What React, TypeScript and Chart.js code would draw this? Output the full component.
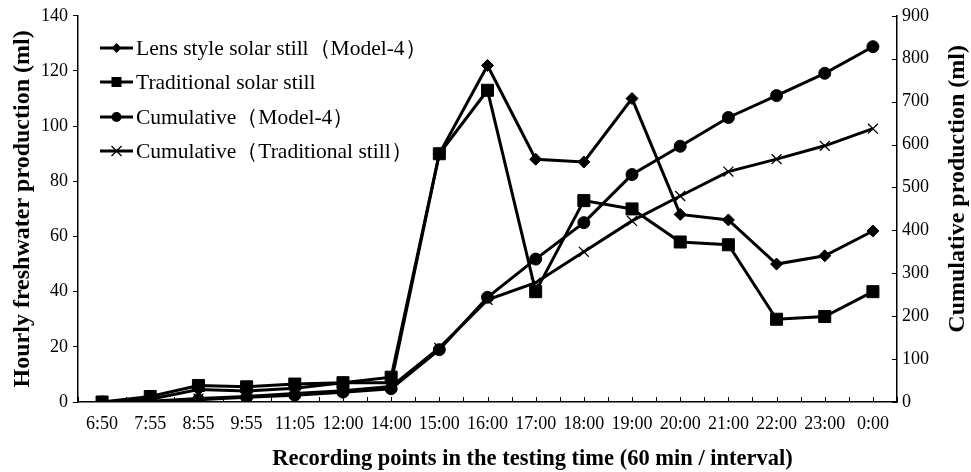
import React, { useEffect, useRef } from "react";
import { Chart, registerables } from "chart.js";

Chart.register(...registerables);

const categories = ["6:50", "7:55", "8:55", "9:55", "11:05", "12:00", "14:00", "15:00", "16:00", "17:00", "18:00", "19:00", "20:00", "21:00", "22:00", "23:00", "0:00"];
const lensHourly = [0, 1, 4.5, 4, 5, 7, 7, 90, 122, 88, 87, 110, 68, 66, 50, 53, 62];
const traditionalHourly = [0, 2, 6, 5.5, 6.5, 7, 9, 90, 113, 40, 73, 70, 58, 57, 30, 31, 40];
const cumulativeLens = [0, 1, 5, 11, 16, 23, 31, 122, 244, 333, 418, 530, 596, 663, 714, 766, 828];
const cumulativeTraditional = [0, 2, 8, 13, 20, 26, 36, 126, 238, 278, 350, 422, 480, 537, 566, 597, 637];

const seriesNames = [
  "Lens style solar still\uFF08Model-4\uFF09",
  "Traditional solar still",
  "Cumulative\uFF08Model-4\uFF09",
  "Cumulative\uFF08Traditional still\uFF09",
];
const seriesMarkers = ["diamond", "square", "circle", "cross"];
const rightTitle = "Cumulative production (ml)";
const xTitle = "Recording points in the testing time (60 min / interval)";

const SERIF = "'Liberation Serif', 'Times New Roman', serif";

function drawMarker(ctx: CanvasRenderingContext2D, kind: string, x: number, y: number) {
  ctx.save();
  ctx.fillStyle = "#000";
  ctx.strokeStyle = "#000";
  ctx.beginPath();
  if (kind === "diamond") {
    ctx.moveTo(x, y - 5);
    ctx.lineTo(x + 5, y);
    ctx.lineTo(x, y + 5);
    ctx.lineTo(x - 5, y);
    ctx.closePath();
    ctx.fill();
  } else if (kind === "square") {
    ctx.rect(x - 5, y - 5, 10, 10);
    ctx.fill();
  } else if (kind === "circle") {
    ctx.arc(x, y, 5, 0, Math.PI * 2);
    ctx.fill();
  } else {
    ctx.lineWidth = 1.3;
    ctx.moveTo(x - 5, y - 5);
    ctx.lineTo(x + 5, y + 5);
    ctx.moveTo(x + 5, y - 5);
    ctx.lineTo(x - 5, y + 5);
    ctx.stroke();
  }
  ctx.restore();
}

const legendPlugin = {
  id: "customLegend",
  afterDraw(chart: any) {
    const ctx = chart.ctx as CanvasRenderingContext2D;
    const area = chart.chartArea;
    const x0 = area.left + 22;
    const rows = [48, 82, 117, 151];
    ctx.save();
    ctx.font = `21.5px ${SERIF}`;
    ctx.textBaseline = "middle";
    ctx.fillStyle = "#000";
    seriesNames.forEach((name, i) => {
      const y = rows[i];
      ctx.strokeStyle = "#000";
      ctx.lineWidth = 3;
      ctx.beginPath();
      ctx.moveTo(x0, y);
      ctx.lineTo(x0 + 33, y);
      ctx.stroke();
      drawMarker(ctx, seriesMarkers[i], x0 + 16.5, y);
      ctx.fillText(name, x0 + 36, y + 1);
    });
    ctx.restore();
  },
};

const extrasPlugin = {
  id: "extras",
  afterDraw(chart: any) {
    const ctx = chart.ctx as CanvasRenderingContext2D;
    const area = chart.chartArea;
    const xs = chart.scales.x;
    const yr = chart.scales.y1;
    ctx.save();
    ctx.strokeStyle = "#000";
    ctx.lineWidth = 1;
    ctx.beginPath();
    const n = categories.length;
    const half = (xs.getPixelForValue(1) - xs.getPixelForValue(0)) / 2;
    for (let i = 0; i < n; i++) {
      const p = xs.getPixelForValue(i);
      const pts = [p, p + half];
      if (i === 0) pts.push(p - half);
      pts.forEach((xx) => {
        const px = Math.round(xx) + 0.5;
        ctx.moveTo(px, area.bottom);
        ctx.lineTo(px, area.bottom - 5);
      });
    }
    yr.ticks.forEach((t: any) => {
      const py = Math.round(yr.getPixelForValue(t.value)) + 0.5;
      ctx.moveTo(area.right, py);
      ctx.lineTo(area.right - 5, py);
    });
    ctx.stroke();

    ctx.fillStyle = "#000";
    ctx.textAlign = "center";
    ctx.textBaseline = "middle";

    // x axis title (sits right of the plot centre in the original)
    ctx.font = `bold 22.5px ${SERIF}`;
    ctx.fillText(xTitle, (area.left + area.right) / 2 + 45, xs.bottom - 13);

    // right axis title, reading bottom-to-top
    ctx.translate(yr.right - 13, (area.top + area.bottom) / 2 - 20);
    ctx.rotate(-Math.PI / 2);
    ctx.font = `bold 24px ${SERIF}`;
    ctx.fillText(rightTitle, 0, 0);
    ctx.restore();
  },
};

export default function App() {
  const canvasRef = useRef<HTMLCanvasElement | null>(null);

  useEffect(() => {
    if (!canvasRef.current) return;
    const chart = new Chart(canvasRef.current, {
      type: "line",
      data: {
        labels: categories,
        datasets: [
          {
            label: seriesNames[0],
            data: lensHourly,
            yAxisID: "y",
            borderColor: "#000",
            backgroundColor: "#000",
            borderWidth: 3,
            pointStyle: "rectRot",
            pointRadius: 6,
            pointBorderWidth: 1,
            tension: 0,
          },
          {
            label: seriesNames[1],
            data: traditionalHourly,
            yAxisID: "y",
            borderColor: "#000",
            backgroundColor: "#000",
            borderWidth: 3,
            pointStyle: "rect",
            pointRadius: 8.5,
            pointBorderWidth: 1,
            tension: 0,
          },
          {
            label: seriesNames[2],
            data: cumulativeLens,
            yAxisID: "y1",
            borderColor: "#000",
            backgroundColor: "#000",
            borderWidth: 3,
            pointStyle: "circle",
            pointRadius: 6,
            pointBorderWidth: 1,
            tension: 0,
          },
          {
            label: seriesNames[3],
            data: cumulativeTraditional,
            yAxisID: "y1",
            borderColor: "#000",
            backgroundColor: "#000",
            borderWidth: 3,
            pointStyle: "crossRot",
            pointRadius: 7,
            pointBorderWidth: 1.3,
            tension: 0,
          },
        ],
      },
      options: {
        animation: false,
        responsive: true,
        maintainAspectRatio: false,
        layout: { padding: { top: 11, bottom: 0, left: 0, right: 0 } },
        plugins: {
          legend: { display: false },
          tooltip: { enabled: false },
        },
        scales: {
          x: {
            type: "category",
            offset: true,
            grid: { display: false, drawTicks: false },
            border: { display: true, color: "#000", width: 1.5 },
            ticks: {
              color: "#000",
              font: { family: SERIF, size: 18 },
              padding: 11,
              maxRotation: 0,
              autoSkip: false,
            },
            title: { display: false },
            afterFit(scale: any) {
              scale.height = 70;
            },
          },
          y: {
            position: "left",
            min: 0,
            max: 140,
            ticks: {
              stepSize: 20,
              color: "#000",
              font: { family: SERIF, size: 18 },
              padding: 5,
            },
            grid: { display: true, drawOnChartArea: false, drawTicks: true, tickLength: 5, color: "#000" },
            border: { display: true, color: "#000", width: 1.5 },
            title: {
              display: true,
              text: "Hourly freshwater production (ml)",
              color: "#000",
              font: { family: SERIF, size: 24, weight: "bold" },
              padding: { top: 8, bottom: 0 },
            },
            afterFit(scale: any) {
              scale.width = 78;
            },
          },
          y1: {
            position: "right",
            min: 0,
            max: 900,
            ticks: {
              stepSize: 100,
              color: "#000",
              font: { family: SERIF, size: 18 },
              padding: 5,
            },
            grid: { display: false, drawOnChartArea: false, drawTicks: false },
            border: { display: true, color: "#000", width: 1.5 },
            title: { display: false },
            afterFit(scale: any) {
              scale.width = 74;
            },
          },
        },
      },
      plugins: [legendPlugin, extrasPlugin],
    });
    return () => chart.destroy();
  }, []);

  return (
    <div style={{ position: "fixed", left: 0, top: 0, width: 971, height: 472, background: "#fff" }}>
      <canvas ref={canvasRef} />
    </div>
  );
}
